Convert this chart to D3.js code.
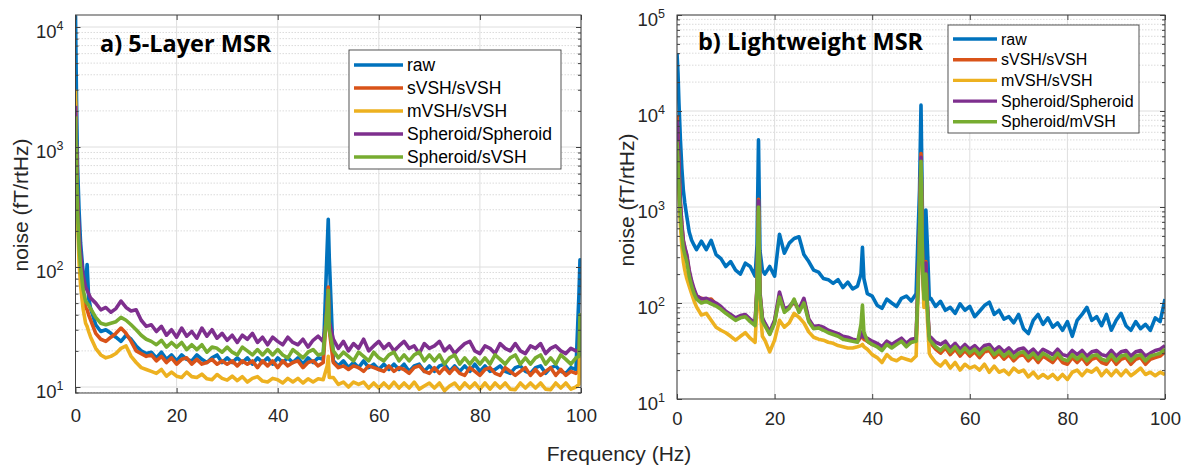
<!DOCTYPE html>
<html>
<head>
<meta charset="utf-8">
<script src="https://cdn.jsdelivr.net/npm/d3@7"></script>
<style>
body { margin: 0; background: #fff; }
svg { display: block; }
</style>
</head>
<body>
<div id="chart"></div>
<script>
// ---------- data ----------
let names_a = ["raw", "sVSH/sVSH", "mVSH/sVSH", "Spheroid/Spheroid", "Spheroid/sVSH"];
let names_b = ["raw", "sVSH/sVSH", "mVSH/sVSH", "Spheroid/Spheroid", "Spheroid/mVSH"];
let colors = ["#0072BD", "#D95319", "#EDB120", "#7E2F8E", "#77AC30"];
let xTicks = [0, 20, 40, 60, 80, 100];
let yTicks_a = [10, 100, 1000, 10000];
let yTicks_b = [10, 100, 1000, 10000, 100000];

// panel a) 5-Layer MSR
let freq_a = [0, 0.2, 0.4, 0.7, 1, 1.5, 2, 2.3, 2.6, 3,
  4, 5, 6, 7, 8, 9, 10, 11, 12, 13, 14, 15, 16, 17, 18, 19, 20, 21, 22, 23, 24, 25, 26, 27, 28, 29,
  30, 31, 32, 33, 34, 35, 36, 37, 38, 39, 40, 41, 42, 43, 44, 45, 46, 47, 48, 49,
  49.8, 50, 50.2,
  51, 52, 53, 54, 55, 56, 57, 58, 59, 60, 61, 62, 63, 64, 65, 66, 67, 68, 69, 70,
  71, 72, 73, 74, 75, 76, 77, 78, 79, 80, 81, 82, 83, 84, 85, 86, 87, 88, 89, 90,
  91, 92, 93, 94, 95, 96, 97, 98, 99,
  99.6, 99.8, 100];

let raw_a = [12500, 2500, 700, 300, 160, 90, 70, 105, 55, 45,
  33, 29, 30, 28, 26, 24, 27, 25, 22, 20, 19, 19.5, 17.5, 19.5, 17, 18.5, 16.5, 18.5, 17, 16.5,
  18.5, 17, 16, 17.5, 18.5, 16, 17.5, 16, 17.5, 16, 17.5, 15.5, 17.5, 16, 17.5, 15.5, 17.5, 16, 17.5, 16,
  17.5, 15.5, 17.5, 16, 17.5, 17,
  150, 250, 120,
  16.5, 15, 16.5, 14.5, 16, 14.5, 16.5, 14.5, 15.5, 14, 15.5, 14, 15.5, 14, 15.5, 13.5, 15, 15.5, 13.5, 15,
  13.5, 15, 15.5, 13.5, 15, 13.5, 15, 13.5, 15.5, 13.5, 15, 13.5, 14, 15, 13.5, 13, 14.5, 15, 13.5, 13,
  14.5, 15, 13, 14.5, 15, 13.5, 13, 14.5, 14,
  60, 115, 70];

let svsh_a = [2400, 900, 350, 160, 100, 60, 46, 44, 40, 36,
  28, 25, 24, 26, 28, 31, 28, 24, 20, 19, 18, 18.5, 16.5, 18, 16, 17.5, 15.5, 17, 17.5, 15.5,
  17, 15.5, 16, 17, 15.5, 16.5, 15.5, 16.5, 15, 16.5, 15.5, 16.5, 14.5, 16.5, 15, 16.5, 14.5, 16.5, 15, 16,
  16.5, 14.5, 16, 16.5, 15, 16,
  50, 68, 30,
  16, 14.5, 15, 14, 15, 14.5, 13.5, 15, 14.5, 14, 13.5, 15, 13.5, 14.5, 14, 13, 14.5, 15, 13.5, 13,
  14.5, 13, 14.5, 13, 14.5, 13, 12.5, 14.5, 13.5, 12.5, 14, 14.5, 13, 12.5, 14.5, 13.5, 12.5, 13.5, 14.5, 12.5,
  14, 12.5, 13.5, 14.5, 12.5, 14, 12.5, 13.5, 13,
  13.5, 25, 14];

let mvsh_a = [3000, 800, 250, 110, 70, 45, 34, 32, 29, 26,
  21, 18.5, 17.5, 18, 19, 21, 22, 18, 16, 14.5, 14, 13.5, 13, 14, 12.3, 13.3, 12.3, 12, 13.3, 12.2,
  12, 12.8, 11.7, 11.5, 12.7, 11.8, 11.4, 12.3, 11.3, 12.2, 11, 11.8, 12.2, 11.2, 11, 11.8, 11.5, 10.8, 11.8, 11,
  11.8, 10.8, 11.7, 11, 11.7, 11.5,
  15, 18, 12,
  12, 10.5, 11, 10, 11, 10.5, 11, 9.8, 10.8, 9.8, 10.8, 9.8, 11, 9.8, 10.8, 9.8, 11, 9.6, 10.2, 10.8,
  9.8, 10.8, 9.3, 10.2, 10.8, 9.6, 10.8, 9.8, 10.8, 9.6, 10.8, 9.6, 10.8, 9.8, 10.8, 9.6, 9.5, 10.8, 9.8, 10.8,
  9.8, 10.8, 9.6, 9.5, 10.8, 9.8, 10.8, 9.6, 10,
  10.5, 22, 12];

let sphsph_a = [2200, 900, 380, 200, 130, 85, 68, 64, 60, 55,
  50, 44, 46, 42, 45, 52, 46, 43, 44, 36, 32, 33, 29, 32, 27, 30, 26, 31, 26.5, 29,
  25.5, 31, 26.5, 30, 25.5, 28, 24.5, 27, 23.5, 27, 25, 28, 23.5, 26, 22.5, 26, 24, 22.5, 26, 23.5,
  22.5, 25, 21.5, 24.5, 26.5, 24,
  40, 60, 35,
  25, 21, 24, 20, 23, 21, 25, 20, 22, 24, 21, 23, 20, 22, 24, 21, 22, 19, 23, 21,
  22, 24, 20, 22, 19, 21, 23, 24, 20, 19, 22, 21, 19, 23, 21, 20, 23, 20, 19, 22,
  21, 23, 19, 21, 22, 20, 19, 21, 20,
  20, 35, 22];

let sphsvsh_a = [1800, 700, 300, 150, 100, 65, 52, 50, 48, 45,
  38, 34, 33, 34, 35, 38, 36, 33, 30, 27, 25, 24, 22.5, 24.5, 21.5, 23.5, 21.5, 23.5, 20.5, 22.5,
  20.5, 22.5, 19.5, 21.5, 21, 19.5, 21.5, 19.5, 18.5, 21.5, 20, 18.5, 20.5, 18.5, 20.5, 18.5, 20.5, 18.5, 17.5, 20.5,
  19, 17.5, 19.5, 20.5, 18.5, 19,
  45, 64, 30,
  20, 17.5, 19.5, 18, 16.5, 19.5, 18, 16.5, 19.5, 17.5, 16.5, 18.5, 19.5, 16.5, 18.5, 16.5, 18.5, 19.5, 16.5, 18.5,
  16.5, 18.5, 15.5, 17.5, 18.5, 15.5, 17.5, 15.5, 17.5, 15.5, 17.5, 15.5, 18.5, 17, 15.5, 17.5, 18.5, 15.5, 17.5, 15.5,
  17.5, 18.5, 15.5, 17.5, 15.5, 18.5, 17, 15.5, 17.5,
  18, 40, 18];

// panel b) Lightweight MSR
let freq_b = [0, 0.2, 0.4, 0.7, 1, 1.3, 1.6, 2, 2.5, 3, 3.5,
  4, 5, 6, 7, 8, 9, 10, 11, 12, 13, 14, 15, 16,
  16.4, 16.7, 17, 17.5,
  18, 19, 20, 21, 22, 23, 24, 25, 26, 27, 28, 29, 30, 31, 32, 33, 34, 35, 36, 37,
  37.7, 38, 38.3,
  39, 40, 41, 42, 43, 44, 45, 46, 47, 48, 49,
  49.7, 50, 50.3, 50.6, 51, 51.3, 51.7,
  52, 53, 54, 55, 56, 57, 58, 59, 60, 61, 62, 63, 64, 65, 66, 67, 68, 69, 70, 71,
  72, 73, 74, 75, 76, 77, 78, 79, 80, 81, 82, 83, 84, 85, 86, 87, 88, 89, 90, 91,
  92, 93, 94, 95, 96, 97, 98, 99, 100];

let raw_b = [40000, 25000, 12000, 5000, 2500, 1500, 1100, 800, 550, 450, 400,
  360, 440, 360, 450, 320, 290, 240, 270, 220, 200, 260, 240, 190,
  400, 5000, 350, 220,
  200, 240, 190, 520, 330, 420, 470, 490, 320, 270, 220, 210, 180, 175, 160, 175, 145, 165, 140, 150,
  200, 380, 180,
  125, 118, 95, 88, 110, 100, 92, 112, 118, 105, 125,
  1500, 11500, 800, 200, 930, 400, 110,
  112, 92, 104, 84, 90, 78, 98, 84, 92, 72, 82, 94, 102, 76, 84, 68, 72, 62, 76, 54,
  48, 66, 76, 60, 70, 56, 62, 52, 64, 45, 66, 76, 90, 66, 72, 58, 76, 52, 66, 78,
  58, 52, 64, 54, 60, 52, 70, 64, 110];

let svsh_b = [9000, 5500, 2600, 1100, 640, 440, 370, 310, 210, 160, 135,
  118, 112, 108, 110, 97, 88, 80, 74, 68, 71, 74, 66, 60,
  145, 1200, 125, 68,
  60, 48, 64, 120, 84, 90, 102, 84, 108, 66, 55, 56, 54, 50, 48, 46, 43, 42, 41, 40,
  44, 48, 42,
  40, 37, 36, 33, 38, 35, 38, 41, 36, 39, 41,
  520, 3600, 310, 115, 270, 95, 43,
  38, 33, 30, 34, 29, 33, 28, 32, 28, 31, 27, 31, 32, 27, 30, 26, 29, 25, 28, 29,
  25, 28, 24, 28, 26, 24, 28, 24, 23, 27, 24, 27, 23, 26, 27, 24, 23, 27, 23, 26,
  27, 23, 26, 27, 23, 26, 27, 28, 31];

let mvsh_b = [5000, 3000, 1400, 650, 380, 270, 220, 180, 150, 125, 105,
  91, 75, 78, 66, 56, 52, 49, 45, 41, 45, 49, 43, 39,
  100, 900, 90, 45,
  41, 31, 41, 66, 56, 62, 78, 71, 62, 50, 44, 42, 41, 39, 38, 36, 35, 34, 34, 35,
  36, 37, 35,
  33, 29, 27, 24, 29, 26, 25, 27, 26, 25, 28,
  400, 2800, 250, 90, 180, 70, 30,
  28, 24, 22, 25, 21, 24, 20, 23, 21, 22, 20, 23, 19, 22, 19, 20, 18, 21, 19, 20,
  17, 19, 16.5, 18, 16.5, 18, 16, 18, 16, 19, 20, 17.5, 20, 19, 21, 17.5, 20, 17.5, 20, 17.5,
  20, 17.5, 19, 21, 18, 19, 17.5, 19, 18];

let sphsph_b = [8000, 5000, 2500, 1100, 650, 450, 380, 320, 220, 170, 140,
  120, 110, 112, 106, 100, 92, 82, 76, 70, 74, 76, 68, 62,
  150, 1150, 130, 70,
  62, 50, 66, 130, 86, 92, 105, 86, 112, 68, 57, 58, 56, 52, 50, 48, 45, 44, 42, 41,
  45, 50, 44,
  43, 40, 38, 35, 40, 37, 40, 43, 38, 42, 43,
  500, 3300, 300, 120, 260, 100, 45,
  44, 39, 37, 40, 34, 38, 33, 37, 33, 36, 32, 36, 37, 32, 35, 31, 34, 30, 33, 34,
  30, 33, 29, 33, 31, 29, 33, 29, 28, 32, 29, 32, 28, 31, 32, 29, 28, 32, 28, 31,
  32, 28, 31, 32, 28, 30, 32, 33, 36];

let sphmvsh_b = [4800, 3000, 1600, 800, 500, 370, 320, 270, 190, 150, 125,
  110, 100, 104, 98, 93, 86, 78, 72, 66, 70, 72, 64, 58,
  140, 1000, 120, 65,
  58, 47, 62, 115, 80, 88, 110, 80, 100, 64, 54, 55, 52, 49, 47, 45, 42, 41, 40, 39,
  60, 95, 50,
  40, 37, 35, 32, 37, 34, 37, 40, 35, 39, 40,
  450, 3000, 280, 110, 200, 90, 42,
  40, 35, 32, 36, 31, 35, 30, 34, 30, 33, 29, 33, 34, 29, 32, 28, 31, 27, 30, 31,
  27, 30, 26, 30, 28, 26, 30, 26, 25, 29, 26, 29, 25, 28, 29, 26, 25, 29, 25, 28,
  29, 25, 28, 29, 25, 28, 29, 30, 33];

// ---------- drawing ----------
let svg = d3.select("#chart").append("svg")
  .attr("width", 1183)
  .attr("height", 468)
  .style("font-family", "'Liberation Sans', Arial, sans-serif");

let line = d3.line()
  .x(d => d.x)
  .y(d => d.y);

// 2..9 x each decade inside the domain
function yTicksMinor(dom) {
  let out = [];
  for (let e = Math.floor(Math.log10(dom[0])); e < Math.ceil(Math.log10(dom[1])); e++) {
    for (let m = 2; m <= 9; m++) {
      let v = m * Math.pow(10, e);
      if (v > dom[0] && v < dom[1]) out.push(v);
    }
  }
  return out;
}

function drawPanel(p) {
  let x = d3.scaleLinear().domain([0, 100]).range([p.left, p.right]);
  let y = d3.scaleLog().domain(p.ydomain).range([p.bottom, p.top]);
  let g = svg.append("g");
  let minor = yTicksMinor(p.ydomain);

  // minor y grid (dotted)
  g.append("g").selectAll("line").data(minor).join("line")
    .attr("x1", p.left).attr("x2", p.right)
    .attr("y1", d => y(d)).attr("y2", d => y(d))
    .attr("stroke", "#d2d2d2")
    .attr("stroke-width", 0.8)
    .attr("stroke-dasharray", "1.5,1.5");

  // major grid
  g.append("g").selectAll("line").data(p.yTicks).join("line")
    .attr("x1", p.left).attr("x2", p.right)
    .attr("y1", d => y(d)).attr("y2", d => y(d))
    .attr("stroke", "#dedede");
  g.append("g").selectAll("line").data(xTicks).join("line")
    .attr("x1", d => x(d)).attr("x2", d => x(d))
    .attr("y1", p.top).attr("y2", p.bottom)
    .attr("stroke", "#dedede");

  // data lines, clipped to the axes box
  let clipId = "clip-" + p.id;
  svg.append("clipPath").attr("id", clipId)
    .append("rect")
    .attr("x", p.left).attr("y", p.top)
    .attr("width", p.right - p.left).attr("height", p.bottom - p.top);

  let lines = g.append("g").attr("clip-path", "url(#" + clipId + ")");
  p.series.forEach((s, i) => {
    let coords = p.freq.map((f, j) => ({ x: x(f), y: y(s[j]) }));
    lines.append("path")
      .datum(coords)
      .attr("d", line)
      .attr("fill", "none")
      .attr("stroke", colors[i])
      .attr("stroke-width", 3.6)
      .attr("stroke-linejoin", "round");
  });

  // axes (ticks pointing inward, MATLAB style)
  let ax = g.append("g").attr("color", "#404040");
  ax.append("g").attr("transform", "translate(0," + p.bottom + ")")
    .call(d3.axisBottom(x).tickValues(xTicks).tickSize(-5).tickPadding(p.xpad))
    .call(a => a.selectAll("text").attr("font-size", 18.5).attr("fill", "#262626"));
  ax.append("g").attr("transform", "translate(0," + p.top + ")")
    .call(d3.axisTop(x).tickValues(xTicks).tickSize(-5).tickFormat(""));
  ax.append("g").attr("transform", "translate(" + p.left + ",0)")
    .call(d3.axisLeft(y).tickValues(p.yTicks).tickSize(-5).tickFormat(""));
  ax.append("g").attr("transform", "translate(" + p.right + ",0)")
    .call(d3.axisRight(y).tickValues(p.yTicks).tickSize(-5).tickFormat(""));
  ax.append("g").attr("transform", "translate(" + p.left + ",0)")
    .call(d3.axisLeft(y).tickValues(minor).tickSize(-3).tickFormat(""));
  ax.append("g").attr("transform", "translate(" + p.right + ",0)")
    .call(d3.axisRight(y).tickValues(minor).tickSize(-3).tickFormat(""));
  ax.selectAll(".domain").remove();

  ax.append("rect")
    .attr("x", p.left).attr("y", p.top)
    .attr("width", p.right - p.left).attr("height", p.bottom - p.top)
    .attr("fill", "none")
    .attr("stroke", "#404040")
    .attr("stroke-width", 1);

  // y tick labels 10^n
  g.append("g").selectAll("text").data(p.yTicks).join("text")
    .attr("x", p.left - 12)
    .attr("y", d => y(d) + 11)
    .attr("text-anchor", "end")
    .attr("font-size", 18.5)
    .attr("fill", "#262626")
    .each(function(d) {
      let t = d3.select(this);
      t.append("tspan").text("10");
      t.append("tspan").attr("dy", -8).attr("font-size", 12.5).text(Math.round(Math.log10(d)));
    });

  // y label
  svg.append("text")
    .attr("transform", "translate(" + p.ylabX + "," + p.ylabY + ") rotate(-90)")
    .attr("text-anchor", "middle")
    .attr("font-size", 21)
    .attr("fill", "#262626")
    .text("noise (fT/rtHz)");

  // panel title
  svg.append("text")
    .attr("x", p.titleX).attr("y", p.titleY)
    .attr("font-family", "'Open Sans', 'Noto Sans', sans-serif")
    .attr("font-weight", 700)
    .attr("font-size", 23.5)
    .attr("fill", "#000")
    .text(p.title);

  // legend
  let lg = svg.append("g");
  lg.append("rect")
    .attr("x", p.leg.x).attr("y", p.leg.y)
    .attr("width", p.leg.w).attr("height", p.leg.h)
    .attr("fill", "#fff")
    .attr("stroke", "#404040")
    .attr("stroke-width", 0.9);
  p.names.forEach((n, i) => {
    let ly = p.leg.y + p.leg.first + i * p.leg.step;
    lg.append("line")
      .attr("x1", p.leg.x + 5).attr("x2", p.leg.x + 5 + p.leg.len)
      .attr("y1", ly).attr("y2", ly)
      .attr("stroke", colors[i]).attr("stroke-width", 3.4);
    lg.append("text")
      .attr("x", p.leg.x + 9 + p.leg.len).attr("y", ly)
      .attr("dominant-baseline", "central")
      .attr("font-size", p.leg.fs)
      .attr("fill", "#000")
      .text(n);
  });
}

drawPanel({
  id: "a", left: 75.5, right: 581, top: 15, bottom: 393,
  ydomain: [Math.pow(10, 0.95), Math.pow(10, 4.1)], yTicks: yTicks_a,
  freq: freq_a, series: [raw_a, svsh_a, mvsh_a, sphsph_a, sphsvsh_a], names: names_a,
  xpad: 16, ylabX: 28, ylabY: 205,
  title: "a) 5-Layer MSR", titleX: 100, titleY: 52,
  leg: { x: 349, y: 50, w: 212, h: 119, first: 15, step: 23, len: 49, fs: 17.5 }
});

drawPanel({
  id: "b", left: 677, right: 1165, top: 15, bottom: 399,
  ydomain: [10, 100000], yTicks: yTicks_b,
  freq: freq_b, series: [raw_b, svsh_b, mvsh_b, sphsph_b, sphmvsh_b], names: names_b,
  xpad: 13, ylabX: 634, ylabY: 200,
  title: "b) Lightweight MSR", titleX: 698, titleY: 50,
  leg: { x: 948, y: 25, w: 191, h: 108, first: 14, step: 20.7, len: 44, fs: 16 }
});

// shared x label
svg.append("text")
  .attr("x", 619).attr("y", 461)
  .attr("text-anchor", "middle")
  .attr("font-size", 21)
  .attr("fill", "#262626")
  .text("Frequency (Hz)");
</script>
</body>
</html>
